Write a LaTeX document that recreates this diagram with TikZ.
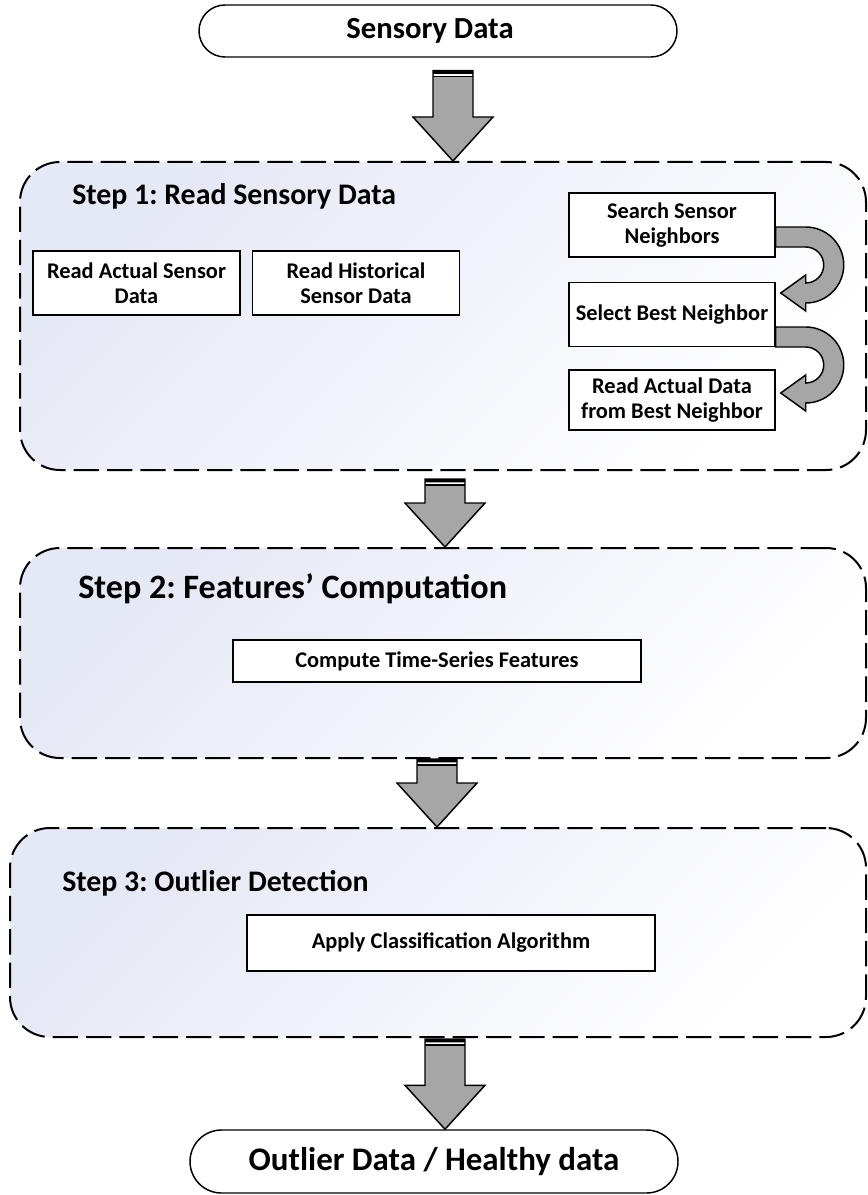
\documentclass[tikz,border=0pt]{standalone}
\usepackage{fontspec}
\setmainfont{Carlito}
\usepackage{xcolor}
\usetikzlibrary{calc, shapes.misc}
\frenchspacing

\definecolor{arrowgray}{RGB}{166,166,166}
\definecolor{stepblue}{RGB}{229,232,245}

% big down arrow: #1 = top point, #2 = anchor the tip reaches
\newcommand{\bigarrow}[2]{%
  \path #1 coordinate (ta) (ta |- #2) coordinate (tb);
  \filldraw[blockarrow] ($(ta)+(-20,0)$) -- ($(tb)+(-20,-44)$) -- ($(tb)+(-40,-44)$)
     -- (tb) -- ($(tb)+(40,-44)$) -- ($(tb)+(20,-44)$) -- ($(ta)+(20,0)$) -- cycle;
  \fill[white] ($(ta)+(-19.3,3.5)$) rectangle ($(ta)+(19.3,5.5)$);
  \draw[line width=2.6pt] ($(ta)+(-20,1.7)$) -- ($(ta)+(20,1.7)$);
  \draw[line width=0.8pt] ($(ta)+(-20,6)$) -- ($(ta)+(20,6)$);
}
% u-turn arrow on the right: #1 = start point
\newcommand{\uturn}[1]{%
  \filldraw[blockarrow] #1 -- ++(30,0) arc[start angle=-90, end angle=90, radius=38]
     -- ++(0,8) -- ++(-25,-18) -- ++(25,-18) -- ++(0,8)
     arc[start angle=90, end angle=-90, radius=18] -- ++(-30,0) -- cycle;
}

\begin{document}
\begin{tikzpicture}[x=0.75pt, y=-0.75pt,
  terminal/.style={draw, line width=1.1pt, rounded rectangle, inner sep=0pt,
    font=\bfseries},
  stepframe/.style={draw, line width=1.5pt, dash pattern=on 19pt off 6pt,
    rounded corners=30pt, inner sep=0pt, top color=stepblue, bottom color=white,
    shading angle=45},
  task/.style={draw, line width=1.1pt, fill=white, inner sep=0pt, align=center,
    font=\fontsize{16.8}{19}\selectfont\bfseries},
  steptitle/.style={anchor=west, inner sep=0pt, font=\fontsize{22.4}{26}\selectfont\bfseries},
  blockarrow/.style={draw, line width=1.1pt, fill=arrowgray, line join=miter}]
  \useasboundingbox (0,0) rectangle (867,1195);

  % Containers
  \node[stepframe, minimum width=634.5pt, minimum height=231pt] (step1) at (443,316) {};
  \node[stepframe, minimum width=634.5pt, minimum height=157.5pt] (step2) at (443,653) {};
  \node[stepframe, minimum width=642pt, minimum height=156.75pt] (step3) at (438,932.5) {};

  % Start / end
  \node[terminal, minimum width=358.5pt, minimum height=39pt,
    font=\fontsize{23}{27}\selectfont\bfseries] (sensory) at (438,31) {\hspace*{-12pt}Sensory Data};
  \node[terminal, minimum width=366pt, minimum height=47.25pt,
    font=\fontsize{24.7}{29}\selectfont\bfseries] (result) at (434,1161.5) {Outlier Data / Healthy data};

  % Step 1
  \node[steptitle] (title1) at (72,196) {Step 1: Read Sensory Data};
  \node[task, minimum width=155.3pt, minimum height=48pt] (actual) at (136.5,283)
    {Read Actual Sensor\\Data};
  \node[task, minimum width=155.3pt, minimum height=48pt] (history) at (356,283)
    {Read Historical\\Sensor Data};
  \node[task, minimum width=154.5pt, minimum height=48pt] (search) at (672,225)
    {Search Sensor\\Neighbors};
  \node[task, minimum width=154.5pt, minimum height=48pt] (select) at (672,314.5)
    {Select Best Neighbor};
  \node[task, minimum width=154.5pt, minimum height=45pt] (bestread) at (672,400)
    {Read Actual Data\\from Best Neighbor};
  \uturn{($(search.east)+(0,2)$)}
  \uturn{($(select.east)+(0,12.5)$)}

  % Step 2
  \node[steptitle, font=\fontsize{25.6}{30}\selectfont\bfseries] (title2) at (78,589)
    {Step 2: Features’ Computation};
  \node[task, minimum width=306pt, minimum height=31.5pt] (features) at (437,661)
    {Compute Time-Series Features};

  % Step 3
  \node[steptitle] (title3) at (62,883) {Step 3: Outlier Detection};
  \node[task, minimum width=306pt, minimum height=42pt] (classify) at (451,943)
    {Apply Classification Algorithm};

  % Flow arrows
  \bigarrow{($(sensory.south)+(15,13)$)}{step1.north}
  \bigarrow{($(step1.south)+(2,8)$)}{step2.north}
  \bigarrow{($(step2.south)+(-6,0)$)}{step3.north}
  \bigarrow{($(step3.south)+(7,1)$)}{result.north}
\end{tikzpicture}
\end{document}
